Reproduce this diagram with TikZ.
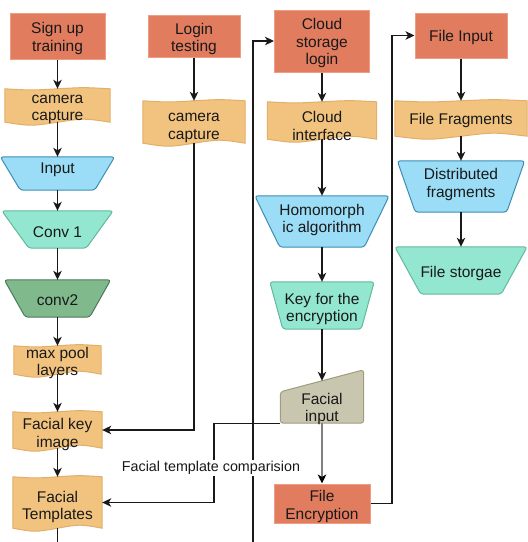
\documentclass[tikz,border=0pt]{standalone}
\usepackage{fontspec}
\setmainfont{Liberation Sans}
\usetikzlibrary{arrows.meta,calc,backgrounds}

\definecolor{salF}{HTML}{E27C5F}
\definecolor{salD}{HTML}{EE9C82}
\definecolor{orF}{HTML}{F1C37E}
\definecolor{orD}{HTML}{E3AE68}
\definecolor{blF}{HTML}{9BDDF6}
\definecolor{blD}{HTML}{3D8DB3}
\definecolor{mnF}{HTML}{93E6CF}
\definecolor{mnD}{HTML}{62B99C}
\definecolor{dgF}{HTML}{7FB98C}
\definecolor{dgD}{HTML}{4D7A5A}
\definecolor{miF}{HTML}{C8C6AE}
\definecolor{miD}{HTML}{A09D7E}

\newcommand\drawtape[3]{%
 \path[fill=#2, draw=#3, line width=1pt]
  (#1.north west) .. controls ($(#1.north west)!.25!(#1.north east)+(0,1.5)$) .. (#1.north)
  .. controls ($(#1.north west)!.75!(#1.north east)+(0,-1.5)$) .. (#1.north east)
  -- (#1.south east) .. controls ($(#1.south west)!.75!(#1.south east)+(0,-4)$) .. (#1.south)
  .. controls ($(#1.south west)!.25!(#1.south east)+(0,4)$) .. (#1.south west) -- cycle;}
\newcommand\drawtrap[4]{%
 \path[fill=#3, draw=#4, line width=1pt, rounded corners=3pt]
  (#1.north west) -- (#1.north east) -- ($(#1.south east)+(-#2,0)$) -- ($(#1.south west)+(#2,0)$) -- cycle;}
\newcommand\drawmanual[3]{%
 \path[fill=#2, draw=#3, line width=1pt, rounded corners=3pt]
  ($(#1.north west)+(0,11)$) -- ($(#1.north east)+(0,-11)$) -- (#1.south east) -- (#1.south west) -- cycle;}
\newcommand\boxtext[3]{\node[txt] (#1-t) at ($(#1.center)+(0,#2)$) {#3};}

\tikzset{
 box/.style={rectangle, inner sep=0pt},
 rectbox/.style={box, fill=salF, draw=salD, line width=1pt},
 txt/.style={inner sep=0pt, align=center, font=\fontsize{15.5}{17.5}\selectfont, text=black!90},
 conn/.style={draw=black!90, line width=1.2pt, -{Stealth[length=9pt,width=8.5pt,inset=2.5pt]}},
 plain/.style={draw=black!90, line width=1.2pt},
 lbl/.style={font=\fontsize{14.3}{16}\selectfont, fill=white, inner sep=1pt, text=black!90},
}

\begin{document}
\begin{tikzpicture}[x=1pt, y=-1pt]
\useasboundingbox (0,0) rectangle (528,542);

% column 1
\node[rectbox, minimum width=95, minimum height=46] (signup) at (57.5,36) {};
\node[box, minimum width=105, minimum height=33] (cam1) at (57.5,105.5) {};
\node[box, minimum width=114, minimum height=33] (input) at (57.5,173.5) {};
\node[box, minimum width=111, minimum height=37] (conv1) at (57.5,229.5) {};
\node[box, minimum width=106, minimum height=37] (conv2) at (57.5,298.5) {};
\node[box, minimum width=87, minimum height=28] (maxpool) at (57.5,360) {};
\node[box, minimum width=89, minimum height=36] (facekey) at (57.5,430) {};
\node[box, minimum width=89, minimum height=51] (facetmpl) at (57.5,502.5) {};

% column 2
\node[rectbox, minimum width=92, minimum height=42] (login) at (194,36) {};
\node[box, minimum width=102, minimum height=42] (cam2) at (194,122) {};

% column 3
\node[rectbox, minimum width=95, minimum height=62] (cloudlogin) at (322,41) {};
\node[box, minimum width=109, minimum height=37] (cloudif) at (322,120.5) {};
\node[box, minimum width=134, minimum height=51] (homo) at (322,221.5) {};
\node[box, minimum width=104, minimum height=47] (key) at (322,305.5) {};
\node[box, minimum width=83, minimum height=42] (facialin) at (322,402) {};
\node[rectbox, minimum width=96, minimum height=39] (fileenc) at (322,503.5) {};

% column 4
\node[rectbox, minimum width=92, minimum height=45] (fileinput) at (461,35.5) {};
\node[box, minimum width=132, minimum height=35] (filefrag) at (461,118.5) {};
\node[box, minimum width=127, minimum height=51] (distr) at (461,186.5) {};
\node[box, minimum width=132, minimum height=47] (storage) at (461,270.5) {};

\begin{pgfonlayer}{background}
\drawtape{cam1}{orF}{orD}
\drawtape{cam2}{orF}{orD}
\drawtape{cloudif}{orF}{orD}
\drawtape{filefrag}{orF}{orD}
\drawtape{maxpool}{orF}{orD}
\drawtape{facekey}{orF}{orD}
\drawtape{facetmpl}{orF}{orD}
\drawtrap{input}{20}{blF}{blD}
\drawtrap{conv1}{27}{mnF}{mnD}
\drawtrap{conv2}{21}{dgF}{dgD}
\drawtrap{homo}{25}{blF}{blD}
\drawtrap{key}{13}{mnF}{mnD}
\drawtrap{distr}{18}{blF}{blD}
\drawtrap{storage}{26}{mnF}{mnD}
\drawmanual{facialin}{miF}{miD}
\end{pgfonlayer}

% texts
\boxtext{signup}{2.5}{Sign up\\training}
\boxtext{cam1}{4}{camera\\capture}
\boxtext{input}{-4}{Input}
\boxtext{conv1}{2.5}{Conv 1}
\boxtext{conv2}{2}{conv2}
\boxtext{maxpool}{3}{max pool\\layers}
\boxtext{facekey}{4.5}{Facial key\\image}
\boxtext{facetmpl}{4.5}{Facial\\Templates}
\boxtext{login}{3}{Login\\testing}
\boxtext{cam2}{6}{camera\\capture}
\boxtext{cloudlogin}{2}{Cloud\\storage\\login}
\boxtext{cloudif}{5.5}{Cloud\\interface}
\boxtext{homo}{-1.5}{Homomorph\\ic algorithm}
\boxtext{key}{3.5}{Key for the\\encryption}
\boxtext{facialin}{7}{Facial\\input}
\boxtext{fileenc}{3}{File\\Encryption}
\boxtext{fileinput}{2}{File Input}
\boxtext{filefrag}{2}{File Fragments}
\boxtext{distr}{-2}{Distributed\\fragments}
\boxtext{storage}{3}{File storgae}

\coordinate (bot1) at (57.5,542);
\coordinate (bot3) at (253,542);
\coordinate (cmp) at (214,468);
\coordinate (encx) at (392,300);

% connectors
\draw[conn] (signup.south) -- (cam1.north);
\draw[conn] (cam1.south) -- (input.north);
\draw[conn] (input.south) -- (conv1.north);
\draw[conn] (conv1.south) -- (conv2.north);
\draw[conn] (conv2.south) -- (maxpool.north);
\draw[conn] (maxpool.south) -- (facekey.north);
\draw[conn] (facekey.south) -- (facetmpl.north);
\draw[plain] (facetmpl.south) -- (bot1);

\draw[conn] (login.south) -- (cam2.north);
\draw[conn] (cam2.south) |- (facekey.east);

\draw[conn] (bot3) |- (cloudlogin.west);
\draw[conn] (cloudlogin.south) -- (cloudif.north);
\draw[conn] (cloudif.south) -- (homo.north);
\draw[conn] (homo.south) -- (key.north);
\draw[conn] (key.south) -- (facialin.north);
\draw[conn, draw=black!50, line width=1.8pt, -{Stealth[length=9pt,width=8.5pt,inset=2.5pt,black]}] (facialin.south) -- (fileenc.north);
\draw[conn] (facialin.south west) -| (cmp) |- (facetmpl.east);
\draw[conn] (fileenc.east) -| (encx) |- (fileinput.west);

\draw[conn] (fileinput.south) -- (filefrag.north);
\draw[conn] (filefrag.south) -- (distr.north);
\draw[conn] (distr.south) -- (storage.north);

\node[lbl] (cmplbl) at (211,468) {Facial template comparision};
\end{tikzpicture}
\end{document}
